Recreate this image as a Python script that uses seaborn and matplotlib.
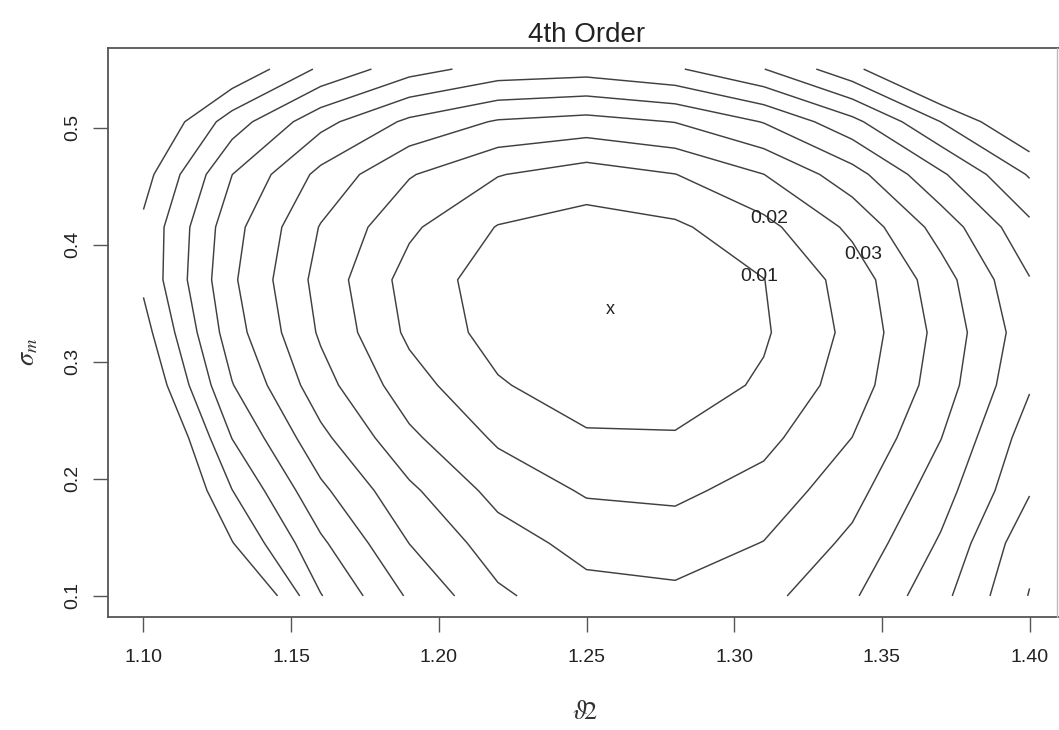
import numpy as np
import matplotlib
matplotlib.use("Agg")
import matplotlib.pyplot as plt
from matplotlib.lines import Line2D
import seaborn as sns

# grid of the two parameters
theta2 = [1.10, 1.13, 1.16, 1.19, 1.22, 1.25, 1.28, 1.31, 1.34, 1.37, 1.40]
sigma_m = [0.100, 0.145, 0.190, 0.235, 0.280, 0.325, 0.370, 0.415, 0.460, 0.505, 0.550]

# objective value at each theta2, one list per sigma_m row (bottom to top)
z_s100 = [0.1600, 0.1206, 0.0805, 0.0586, 0.0418, 0.0335, 0.0321, 0.0369, 0.0486, 0.0670, 0.0905]
z_s145 = [0.1360, 0.1005, 0.0718, 0.0499, 0.0348, 0.0265, 0.0250, 0.0303, 0.0424, 0.0613, 0.0870]
z_s190 = [0.1249, 0.0902, 0.0622, 0.0420, 0.0266, 0.0189, 0.0179, 0.0237, 0.0363, 0.0556, 0.0792]
z_s235 = [0.1210, 0.0798, 0.0526, 0.0321, 0.0184, 0.0113, 0.0109, 0.0171, 0.0301, 0.0498, 0.0750]
z_s280 = [0.1107, 0.0705, 0.0440, 0.0242, 0.0110, 0.0045, 0.0046, 0.0114, 0.0249, 0.0450, 0.0690]
z_s325 = [0.1040, 0.0644, 0.0386, 0.0180, 0.0060, 0.0008, 0.0015, 0.0088, 0.0227, 0.0432, 0.0660]
z_s370 = [0.0980, 0.0616, 0.0364, 0.0160, 0.0050, 0.0005, 0.0018, 0.0098, 0.0244, 0.0457, 0.0695]
z_s415 = [0.0980, 0.0636, 0.0394, 0.0218, 0.0095, 0.0062, 0.0083, 0.0169, 0.0322, 0.0540, 0.0775]
z_s460 = [0.1040, 0.0701, 0.0472, 0.0308, 0.0205, 0.0151, 0.0198, 0.0299, 0.0459, 0.0684, 0.0910]
z_s505 = [0.1131, 0.0850, 0.0633, 0.0479, 0.0390, 0.0364, 0.0403, 0.0505, 0.0671, 0.0901, 0.1120]
z_s550 = [0.1358, 0.1088, 0.0882, 0.0739, 0.0659, 0.0642, 0.0688, 0.0798, 0.0970, 0.1206, 0.1505]

contour_levels = [0.01, 0.02, 0.03, 0.04, 0.05, 0.06, 0.07, 0.08, 0.09, 0.10]
labelled_levels = [0.01, 0.02, 0.03]
label_theta2 = [1.3085, 1.3119, 1.3437]
label_sigma = [0.3726, 0.4222, 0.3915]

min_theta2 = 1.258
min_sigma = 0.345

x_ticks = [1.10, 1.15, 1.20, 1.25, 1.30, 1.35, 1.40]
y_ticks = [0.1, 0.2, 0.3, 0.4, 0.5]

sns.set_theme(style="ticks")
plt.rcParams["font.family"] = ["Liberation Sans", "DejaVu Sans"]
plt.rcParams["mathtext.fontset"] = "stix"

W, H = 1059, 730
fig = plt.figure(figsize=(W / 100, H / 100), dpi=100)
fig.patch.set_facecolor("white")

# plot region in pixels: left 108, right 1065 (runs past the page edge), top 48, bottom 617
ax = fig.add_axes([108 / W, 1 - 617 / H, (1065 - 108) / W, (617 - 48) / H])
ax.set_facecolor("white")

surface = np.array([z_s100, z_s145, z_s190, z_s235, z_s280, z_s325,
                    z_s370, z_s415, z_s460, z_s505, z_s550])
TH, SG = np.meshgrid(theta2, sigma_m)
ax.contour(TH, SG, surface, levels=contour_levels,
           colors="#404040", linewidths=1.05)

for lev, lx, ly in zip(labelled_levels, label_theta2, label_sigma):
    ax.text(lx, ly, f"{lev:.2f}", ha="center", va="center",
            fontsize=14, color="#222222")

ax.text(min_theta2, min_sigma, "x", ha="center", va="center",
        fontsize=13, color="#222222")

ax.set_xlim(1.088, 1.412)
ax.set_ylim(0.082, 0.568)
ax.set_xticks(x_ticks, [f"{t:.2f}" for t in x_ticks])
ax.set_yticks(y_ticks, [f"{t:.1f}" for t in y_ticks])
ax.tick_params(direction="out", length=11, width=1.0, color="#555555",
               labelsize=14, labelcolor="#222222")
ax.tick_params(axis="x", pad=12)
ax.tick_params(axis="y", pad=8)
for lbl in ax.get_yticklabels():
    lbl.set_rotation(90)
    lbl.set_va("center")

for side in ["left", "right", "top", "bottom"]:
    ax.spines[side].set_visible(True)
    ax.spines[side].set_color("#555555")
    ax.spines[side].set_linewidth(1.3)

ax.set_title("4th Order", fontsize=20, color="#222222", pad=3)

fig.text(585 / W, 1 - 712 / H, r"$\vartheta\!2$", ha="center", va="center",
         fontsize=19, color="#333333")
fig.text(28 / W, 1 - 352 / H, r"$\sigma_m$", ha="center", va="center",
         rotation=90, fontsize=19, color="#333333")

# right page edge
fig.add_artist(Line2D([1057 / W, 1057 / W], [1 - 617 / H, 1 - 48 / H],
                      transform=fig.transFigure, color="#bbbbbb", linewidth=1.0))

fig.savefig("out.png", dpi=100, facecolor="white")
